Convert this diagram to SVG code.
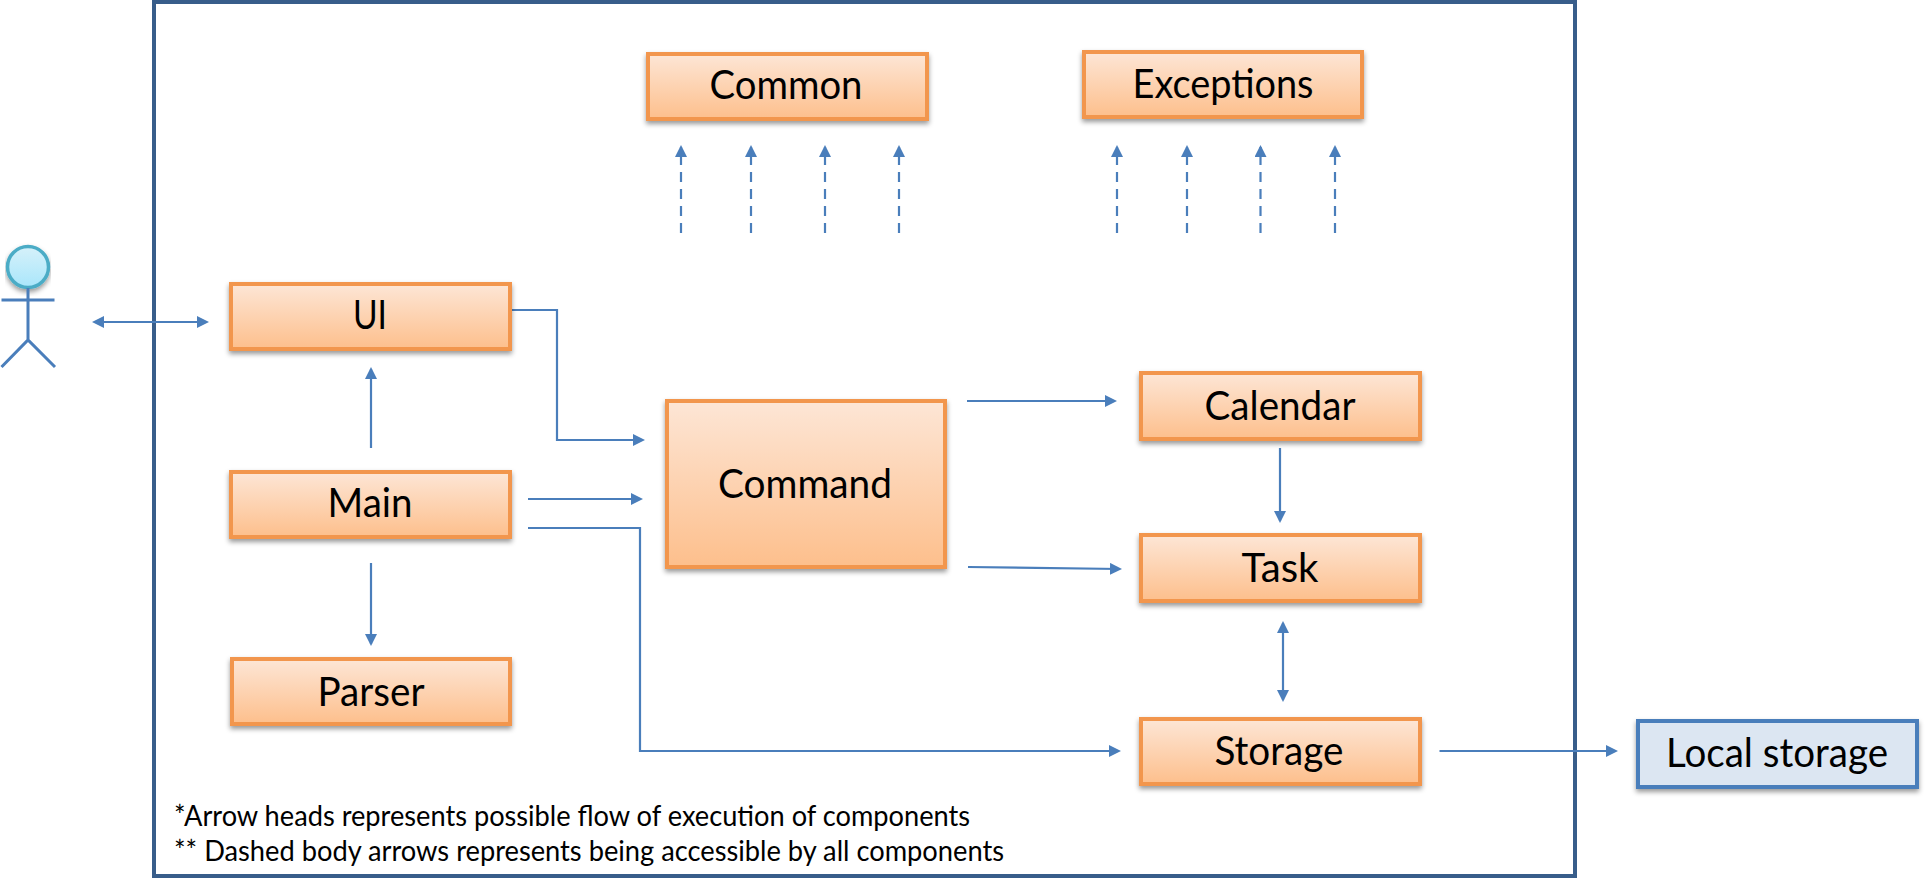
<svg xmlns="http://www.w3.org/2000/svg" width="1925" height="886" viewBox="0 0 1925 886">
<style>
.box{fill:url(#orange);stroke:#f2964d;stroke-width:4;filter:url(#sh)}
.blue{fill:#dce6f2;stroke:#4a7ebb;stroke-width:4;filter:url(#sh)}
.lbl{font-family:Lato,Carlito,"Open Sans",sans-serif;font-size:40px;fill:#000;text-anchor:middle}
.note{font-family:Lato,Carlito,"Open Sans",sans-serif;font-size:28px;fill:#000}
.c{fill:none;stroke:#4a7ebb;stroke-width:2.2}
.a{marker-end:url(#ah)}
.d{marker-start:url(#ah);marker-end:url(#ah)}
.dash{stroke-dasharray:10 7;marker-end:url(#ah)}
.fig{fill:none;stroke:#4a7ebb;stroke-width:3}
</style>
<defs>
<linearGradient id="orange" x1="0" y1="0" x2="0" y2="1"><stop offset="0" stop-color="#fde6d6"/><stop offset="1" stop-color="#fdbf8c"/></linearGradient>
<linearGradient id="cyan" x1="0" y1="0" x2="0" y2="1"><stop offset="0" stop-color="#d6f1fa"/><stop offset="1" stop-color="#a9e6fb"/></linearGradient>
<filter id="sh" x="-5%" y="-10%" width="110%" height="130%"><feDropShadow dx="0" dy="3" stdDeviation="2.5" flood-color="#000" flood-opacity="0.4"/></filter>
<marker id="ah" markerUnits="userSpaceOnUse" viewBox="0 0 12 12" markerWidth="12" markerHeight="12" refX="10" refY="6" orient="auto-start-reverse"><path d="M0 0L12 6L0 12z" fill="#4a7ebb"/></marker>
</defs>
<rect width="1925" height="886" fill="#fff"/>
<rect id="frame" x="154" y="2" width="1421" height="874" fill="none" stroke="#385d8a" stroke-width="4"/>
<g id="actor">
<circle cx="28" cy="267" r="20.5" fill="url(#cyan)" stroke="#4bacc6" stroke-width="3.5" filter="url(#sh)"/>
<path class="fig" d="M28 288V340M1.5 300H54.5M1.5 367L28 340L55 367"/>
</g>
<g id="connectors">
<path class="c d" d="M94 322H207"/>
<path class="c a" d="M510 310H557V440H643"/>
<path class="c a" d="M371 448V369"/>
<path class="c a" d="M528 499H641"/>
<path class="c a" d="M528 528H640V751H1119"/>
<path class="c a" d="M371 563V644"/>
<path class="c a" d="M967 401H1115"/>
<path class="c a" d="M968 567L1120 569"/>
<path class="c a" d="M1280 448V521"/>
<path class="c d" d="M1283 623V700"/>
<path class="c a" d="M1439.5 751H1616"/>
<path class="c dash" d="M681 233V147"/>
<path class="c dash" d="M751 233V147"/>
<path class="c dash" d="M825 233V147"/>
<path class="c dash" d="M899 233V147"/>
<path class="c dash" d="M1117 233V147"/>
<path class="c dash" d="M1187 233V147"/>
<path class="c dash" d="M1260.5 233V147"/>
<path class="c dash" d="M1335 233V147"/>
</g>
<g id="common"><rect class="box" x="648" y="54" width="279" height="65"/><text class="lbl" x="786" y="99" textLength="153" lengthAdjust="spacingAndGlyphs">Common</text></g>
<g id="exceptions"><rect class="box" x="1084" y="52" width="278" height="65"/><text class="lbl" x="1223" y="98" textLength="181" lengthAdjust="spacingAndGlyphs">Exceptions</text></g>
<g id="ui"><rect class="box" x="231" y="284" width="279" height="65"/><text class="lbl" x="370" y="329" textLength="34" lengthAdjust="spacingAndGlyphs">UI</text></g>
<g id="main"><rect class="box" x="231" y="472" width="279" height="65"/><text class="lbl" x="370" y="517" textLength="85" lengthAdjust="spacingAndGlyphs">Main</text></g>
<g id="parser"><rect class="box" x="232" y="659" width="278" height="65"/><text class="lbl" x="371" y="706" textLength="107" lengthAdjust="spacingAndGlyphs">Parser</text></g>
<g id="command"><rect class="box" x="667" y="401" width="278" height="166"/><text class="lbl" x="805" y="498" textLength="174" lengthAdjust="spacingAndGlyphs">Command</text></g>
<g id="calendar"><rect class="box" x="1141" y="373" width="279" height="66"/><text class="lbl" x="1280" y="420" textLength="151" lengthAdjust="spacingAndGlyphs">Calendar</text></g>
<g id="task"><rect class="box" x="1141" y="535" width="279" height="66"/><text class="lbl" x="1280" y="582" textLength="77" lengthAdjust="spacingAndGlyphs">Task</text></g>
<g id="storage"><rect class="box" x="1141" y="719" width="279" height="65"/><text class="lbl" x="1279" y="765" textLength="129" lengthAdjust="spacingAndGlyphs">Storage</text></g>
<g id="local-storage"><rect class="blue" x="1638" y="721" width="279" height="66"/><text class="lbl" x="1777" y="767" textLength="222" lengthAdjust="spacingAndGlyphs">Local storage</text></g>
<g id="notes">
<text class="note" x="174" y="826" textLength="796" lengthAdjust="spacingAndGlyphs">*Arrow heads represents possible flow of execution of components</text>
<text class="note" x="174" y="861" textLength="830" lengthAdjust="spacingAndGlyphs">** Dashed body arrows represents being accessible by all components</text>
</g>
</svg>
